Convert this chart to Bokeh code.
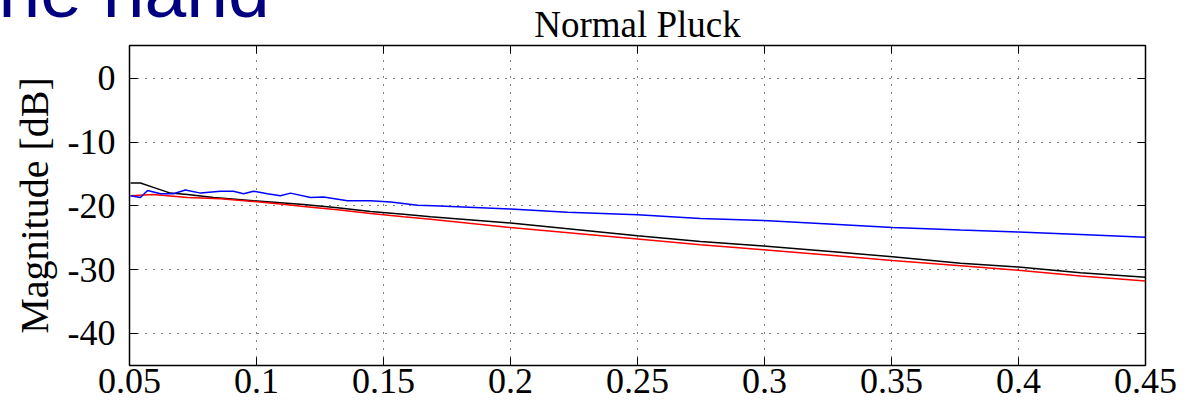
from bokeh.plotting import figure
from bokeh.models import Range1d, LinearAxis, FixedTicker, Title
from bokeh.embed import file_html
from bokeh.resources import INLINE

# ---- data ----
blue_x = [0.0504, 0.0543, 0.0571, 0.0622, 0.0673, 0.0720, 0.0780, 0.0858, 0.0909, 0.0949,
          0.0988, 0.1043, 0.1094, 0.1134, 0.1213, 0.1264, 0.1358, 0.1449, 0.1528, 0.1634,
          0.1697, 0.2000, 0.2224, 0.2500, 0.2748, 0.2996, 0.3272, 0.3504, 0.3772, 0.4000,
          0.4244, 0.4500]
blue_y = [-18.4, -18.7, -17.6, -18.1, -18.1, -17.5, -18.0, -17.7, -17.7, -18.1,
          -17.7, -18.1, -18.4, -18.0, -18.7, -18.6, -19.2, -19.2, -19.4, -19.9,
          -20.0, -20.5, -21.0, -21.4, -22.0, -22.3, -22.9, -23.4, -23.8, -24.1,
          -24.5, -24.95]

black_x = [0.0504, 0.0543, 0.0594, 0.0661, 0.0728, 0.0831, 0.0988, 0.1094, 0.1185, 0.1319,
           0.1449, 0.1579, 0.1685, 0.2000, 0.2500, 0.2748, 0.2996, 0.3272, 0.3504, 0.3772,
           0.4000, 0.4244, 0.4500]
black_y = [-16.4, -16.4, -17.1, -18.0, -18.2, -18.7, -19.2, -19.5, -19.8, -20.3,
           -20.9, -21.3, -21.7, -22.7, -24.7, -25.6, -26.3, -27.2, -28.0, -29.0,
           -29.6, -30.5, -31.2]

red_x = [0.0504, 0.0594, 0.0728, 0.0858, 0.0988, 0.1094, 0.1185, 0.1319, 0.1449, 0.1579,
         0.1685, 0.2000, 0.2500, 0.2748, 0.2996, 0.3272, 0.3504, 0.3772, 0.4000, 0.4244,
         0.4500]
red_y = [-18.4, -18.2, -18.7, -18.9, -19.3, -19.7, -20.1, -20.6, -21.2, -21.7,
         -22.1, -23.4, -25.2, -26.1, -26.9, -27.8, -28.6, -29.4, -30.1, -31.0,
         -31.8]

x_ticks = [0.05, 0.1, 0.15, 0.2, 0.25, 0.3, 0.35, 0.4, 0.45]
x_tick_labels = ["0.05", "0.1", "0.15", "0.2", "0.25", "0.3", "0.35", "0.4", "0.45"]
y_ticks = [0, -10, -20, -30, -40]
y_tick_labels = ["0", "-10", "-20", "-30", "-40"]

title_text = "Normal Pluck"
slide_text = "he hand"
y_label = "Magnitude [dB]"

SERIF = "Liberation Serif"

p = figure(width=1194, height=414, output_backend="svg", toolbar_location=None,
           x_range=Range1d(0.05, 0.45), y_range=Range1d(-45.07, 5.18),
           min_border_left=129, min_border_right=49, min_border_top=45, min_border_bottom=49)
p.background_fill_color = "white"
p.border_fill_color = "white"
p.outline_line_color = "black"
p.outline_line_width = 1.5

# grid
for g in (p.xgrid, p.ygrid):
    g.grid_line_color = "black"
    g.grid_line_dash = "1 7"
    g.grid_line_width = 1
p.xgrid.ticker = FixedTicker(ticks=x_ticks)
p.ygrid.ticker = FixedTicker(ticks=y_ticks)

def style_axis(ax, ticks, labels, show_labels):
    ax.ticker = FixedTicker(ticks=ticks)
    ax.major_label_overrides = {t: l for t, l in zip(ticks, labels)}
    ax.major_tick_in = 8
    ax.major_tick_out = 0
    ax.minor_tick_line_color = None
    ax.axis_line_color = None
    ax.major_tick_line_color = "black"
    ax.major_tick_line_width = 1
    ax.major_label_text_font = SERIF
    if show_labels:
        ax.major_label_text_font_size = "36px"
        ax.major_label_text_color = "black"
    else:
        ax.major_label_text_font_size = "1px"
        ax.major_label_text_color = None
        ax.major_label_standoff = 0

style_axis(p.xaxis[0], x_ticks, x_tick_labels, True)
style_axis(p.yaxis[0], y_ticks, y_tick_labels, True)
p.xaxis[0].major_label_standoff = 3
p.yaxis[0].major_label_standoff = 14
p.yaxis[0].axis_label = y_label
p.yaxis[0].axis_label_text_font = SERIF
p.yaxis[0].axis_label_text_font_size = "40px"
p.yaxis[0].axis_label_text_font_style = "normal"
p.yaxis[0].axis_label_text_color = "black"
p.yaxis[0].axis_label_standoff = 8

top_ax = LinearAxis()
style_axis(top_ax, x_ticks, x_tick_labels, False)
p.add_layout(top_ax, "above")
right_ax = LinearAxis()
style_axis(right_ax, y_ticks, y_tick_labels, False)
p.add_layout(right_ax, "right")

# chart title (closest to the frame)
t1 = Title(text=title_text, align="center", vertical_align="bottom", standoff=2,
           text_font=SERIF, text_font_size="37px", text_font_style="normal",
           text_color="black")
p.add_layout(t1, "above")

# slide heading fragment (outermost, partly above the page edge);
# the trailing line break lifts the visible line a few pixels.
p.title.text = slide_text + "\n"
p.title.align = "left"
p.title.offset = -131
p.title.vertical_align = "bottom"
p.title.standoff = -108
p.title.text_line_height = 0.26
p.title.text_font = "Liberation Sans"
p.title.text_font_size = "75px"
p.title.text_font_style = "normal"
p.title.text_color = "#000080"

# curves
p.line(black_x, black_y, line_color="black", line_width=1.5)
p.line(red_x, red_y, line_color="#ff0000", line_width=1.5)
p.line(blue_x, blue_y, line_color="#0000ff", line_width=1.5)

open("out.html", "w").write(file_html(p, INLINE))
